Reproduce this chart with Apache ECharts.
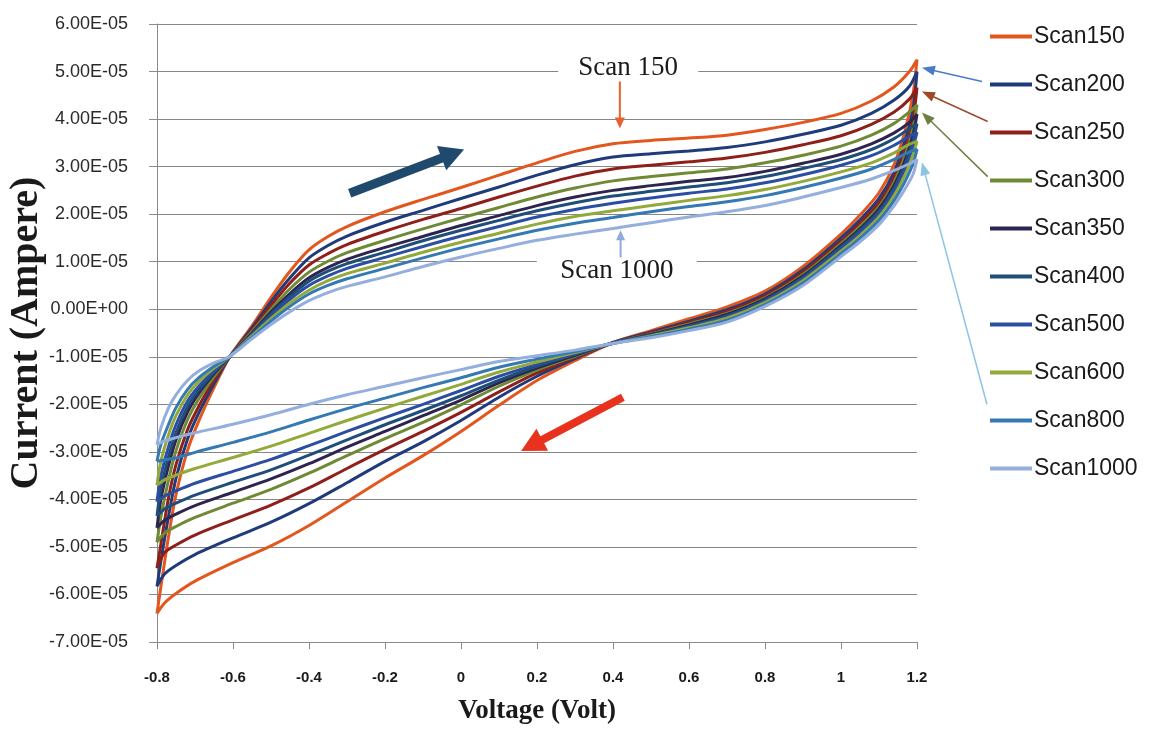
<!DOCTYPE html>
<html>
<head>
<meta charset="utf-8">
<script src="https://cdn.jsdelivr.net/npm/echarts@6/dist/echarts.min.js"></script>
<style>
  html, body { margin: 0; padding: 0; background: #ffffff; }
  #chart { width: 1151px; height: 731px; }
</style>
</head>
<body>
<div id="chart"></div>
<script>
// Cyclic voltammetry loops at ten scan rates.
// Voltages (V) for the anodic (forward) sweep, -0.8 -> 1.2
const fwdVolts = [-0.8, -0.79, -0.77, -0.75, -0.72, -0.69, -0.65, -0.61, -0.55, -0.5, -0.45, -0.4, -0.35, -0.3, -0.2, -0.1, 0, 0.1, 0.2, 0.3, 0.4, 0.5, 0.6, 0.7, 0.8, 0.9, 1.0, 1.08, 1.14, 1.18, 1.2];
// Voltages (V) for the cathodic (reverse) sweep, 1.2 -> -0.8
const revVolts = [1.19, 1.17, 1.14, 1.1, 1.05, 1.0, 0.9, 0.8, 0.7, 0.6, 0.5, 0.4, 0.3, 0.2, 0.1, 0, -0.1, -0.2, -0.3, -0.4, -0.5, -0.6, -0.7, -0.75, -0.78, -0.8];

// Currents in units of 1e-5 A
const fwd150  = [-6.40, -5.85, -4.80, -3.90, -2.98, -2.35, -1.65, -1.02, -0.35, 0.25, 0.80, 1.25, 1.53, 1.74, 2.05, 2.31, 2.56, 2.82, 3.08, 3.32, 3.48, 3.55, 3.60, 3.66, 3.78, 3.93, 4.12, 4.38, 4.68, 5.00, 5.25];
const rev150  = [4.55, 3.80, 3.05, 2.45, 1.98, 1.58, 0.90, 0.38, 0.05, -0.20, -0.45, -0.70, -1.08, -1.50, -2.02, -2.57, -3.08, -3.55, -4.05, -4.55, -4.98, -5.33, -5.72, -5.98, -6.18, -6.40];
const fwd200  = [-5.83, -5.31, -4.37, -3.56, -2.74, -2.18, -1.57, -1.02, -0.39, 0.16, 0.66, 1.08, 1.34, 1.54, 1.83, 2.08, 2.33, 2.57, 2.82, 3.04, 3.20, 3.27, 3.33, 3.40, 3.52, 3.68, 3.87, 4.12, 4.40, 4.69, 5.00];
const rev200  = [4.24, 3.58, 2.89, 2.33, 1.88, 1.50, 0.83, 0.32, -0.01, -0.25, -0.48, -0.70, -1.04, -1.41, -1.85, -2.34, -2.79, -3.20, -3.65, -4.09, -4.48, -4.81, -5.16, -5.39, -5.57, -5.83];
const fwd250  = [-5.45, -4.95, -3.98, -3.27, -2.54, -2.04, -1.49, -1.01, -0.43, 0.08, 0.55, 0.93, 1.17, 1.36, 1.64, 1.89, 2.12, 2.36, 2.59, 2.80, 2.95, 3.03, 3.10, 3.18, 3.30, 3.46, 3.65, 3.89, 4.15, 4.42, 4.66];
const rev250  = [4.02, 3.41, 2.78, 2.24, 1.81, 1.43, 0.78, 0.28, -0.05, -0.28, -0.50, -0.71, -1.01, -1.34, -1.74, -2.17, -2.57, -2.95, -3.35, -3.76, -4.12, -4.43, -4.75, -4.96, -5.12, -5.45];
const fwd300  = [-4.90, -4.38, -3.60, -2.98, -2.33, -1.89, -1.42, -1.01, -0.47, 0.00, 0.43, 0.78, 1.01, 1.19, 1.45, 1.69, 1.92, 2.14, 2.36, 2.55, 2.70, 2.79, 2.87, 2.95, 3.08, 3.24, 3.43, 3.66, 3.91, 4.15, 4.30];
const rev300  = [3.82, 3.26, 2.68, 2.16, 1.74, 1.38, 0.73, 0.24, -0.09, -0.31, -0.52, -0.71, -0.99, -1.28, -1.62, -2.01, -2.38, -2.72, -3.08, -3.45, -3.79, -4.08, -4.38, -4.57, -4.71, -4.90];
const fwd350  = [-4.60, -4.01, -3.30, -2.75, -2.17, -1.77, -1.36, -1.01, -0.50, -0.06, 0.33, 0.66, 0.88, 1.05, 1.30, 1.53, 1.76, 1.97, 2.18, 2.36, 2.50, 2.60, 2.69, 2.77, 2.90, 3.07, 3.26, 3.48, 3.71, 3.93, 4.10];
const rev350  = [3.68, 3.16, 2.61, 2.11, 1.69, 1.34, 0.70, 0.22, -0.11, -0.33, -0.53, -0.71, -0.97, -1.24, -1.55, -1.91, -2.24, -2.57, -2.90, -3.25, -3.57, -3.85, -4.13, -4.31, -4.44, -4.60];
const fwd400  = [-4.35, -3.77, -3.11, -2.60, -2.06, -1.70, -1.33, -1.00, -0.52, -0.10, 0.27, 0.59, 0.80, 0.96, 1.20, 1.44, 1.66, 1.87, 2.07, 2.24, 2.38, 2.48, 2.57, 2.66, 2.79, 2.96, 3.15, 3.36, 3.59, 3.80, 3.90];
const rev400  = [3.56, 3.08, 2.55, 2.06, 1.66, 1.31, 0.67, 0.19, -0.14, -0.35, -0.54, -0.71, -0.95, -1.20, -1.49, -1.82, -2.13, -2.43, -2.75, -3.07, -3.38, -3.64, -3.91, -4.08, -4.20, -4.35];
const fwd500  = [-4.05, -3.51, -2.90, -2.43, -1.94, -1.62, -1.29, -1.00, -0.54, -0.15, 0.21, 0.50, 0.70, 0.86, 1.09, 1.32, 1.54, 1.74, 1.94, 2.10, 2.23, 2.34, 2.44, 2.53, 2.66, 2.83, 3.03, 3.23, 3.45, 3.64, 3.72];
const rev500  = [3.43, 2.98, 2.48, 2.01, 1.61, 1.27, 0.64, 0.17, -0.16, -0.37, -0.55, -0.71, -0.94, -1.16, -1.41, -1.71, -2.00, -2.28, -2.57, -2.87, -3.16, -3.41, -3.66, -3.82, -3.93, -4.05];
const fwd600  = [-3.70, -3.20, -2.65, -2.24, -1.81, -1.52, -1.24, -1.00, -0.56, -0.20, 0.13, 0.40, 0.60, 0.75, 0.97, 1.20, 1.41, 1.60, 1.79, 1.95, 2.07, 2.18, 2.29, 2.39, 2.52, 2.69, 2.89, 3.08, 3.29, 3.47, 3.53];
const rev600  = [3.26, 2.85, 2.39, 1.94, 1.55, 1.22, 0.60, 0.14, -0.19, -0.39, -0.56, -0.72, -0.91, -1.11, -1.32, -1.58, -1.83, -2.08, -2.34, -2.61, -2.88, -3.12, -3.35, -3.49, -3.59, -3.70];
const fwd800  = [-3.20, -2.85, -2.43, -2.07, -1.69, -1.44, -1.20, -1.00, -0.59, -0.25, 0.06, 0.32, 0.50, 0.64, 0.86, 1.08, 1.29, 1.48, 1.66, 1.81, 1.93, 2.05, 2.16, 2.26, 2.39, 2.56, 2.76, 2.95, 3.15, 3.31, 3.36];
const rev800  = [3.07, 2.71, 2.29, 1.87, 1.49, 1.17, 0.55, 0.10, -0.23, -0.42, -0.58, -0.72, -0.89, -1.05, -1.22, -1.44, -1.65, -1.87, -2.09, -2.33, -2.58, -2.80, -3.01, -3.13, -3.17, -3.20];
const fwd1000 = [-2.85, -2.50, -2.08, -1.80, -1.50, -1.30, -1.13, -1.00, -0.62, -0.32, -0.05, 0.18, 0.35, 0.48, 0.68, 0.90, 1.10, 1.28, 1.45, 1.58, 1.70, 1.82, 1.94, 2.05, 2.18, 2.36, 2.56, 2.74, 2.92, 3.06, 3.15];
const rev1000 = [2.85, 2.55, 2.18, 1.78, 1.42, 1.11, 0.50, 0.06, -0.27, -0.45, -0.60, -0.72, -0.86, -0.98, -1.10, -1.27, -1.44, -1.62, -1.80, -2.00, -2.22, -2.42, -2.60, -2.70, -2.77, -2.85];

const scanNames  = ['Scan150', 'Scan200', 'Scan250', 'Scan300', 'Scan350', 'Scan400', 'Scan500', 'Scan600', 'Scan800', 'Scan1000'];
const scanColors = ['#E2571E', '#1F3B7A', '#8E1F1B', '#6F8A35', '#2E2450', '#1F4E79', '#2B4EA2', '#93A93A', '#3579B2', '#94AEDD'];
const sweeps = [
  [fwd150, rev150], [fwd200, rev200], [fwd250, rev250], [fwd300, rev300], [fwd350, rev350],
  [fwd400, rev400], [fwd500, rev500], [fwd600, rev600], [fwd800, rev800], [fwd1000, rev1000]
];
const UNIT = 1e-5;

// Axis range (voltage in V, current in A)
const xMin = -0.8, xMax = 1.2, xStep = 0.2;
const yMin = -7e-5, yMax = 6e-5, yStep = 1e-5;

// Annotations, in data coordinates (V, 1e-5 A)
const noteTexts = [
  { text: 'Scan 150',  at: [0.44, 5.08], w: 140 },
  { text: 'Scan 1000', at: [0.41, 0.80], w: 160 }
];
const noteArrows = [
  { from: [0.418, 4.79], to: [0.418, 3.80], color: '#E8602C', w: 2,   hl: 11, hw: 10 },
  { from: [0.42, 1.09],  to: [0.42, 1.66],  color: '#8FAADC', w: 2,   hl: 10, hw: 9 },
  { from: [-0.293, 2.44], to: [0.008, 3.36], color: '#1F4A6E', w: 9,  hl: 24, hw: 26 },
  { from: [0.426, -1.85], to: [0.158, -2.98], color: '#E8321E', w: 8, hl: 24, hw: 25 },
  { from: [1.371, 4.79], to: [1.213, 5.08], color: '#4A7BC8', w: 1.5, hl: 13, hw: 10 },
  { from: [1.386, 3.95], to: [1.213, 4.58], color: '#9C4A2A', w: 1.5, hl: 13, hw: 10 },
  { from: [1.386, 2.79], to: [1.213, 4.14], color: '#6E8040', w: 1.5, hl: 13, hw: 10 },
  { from: [1.384, -2.0], to: [1.213, 3.09], color: '#8CC4E4', w: 1.5, hl: 13, hw: 10 }
];

function sciLabel(v) {
  if (Math.abs(v) < 1e-12) return '0.00E+00';
  const parts = v.toExponential(2).split('e');
  const e = parseInt(parts[1], 10);
  return parts[0] + 'E' + (e < 0 ? '-' : '+') + String(Math.abs(e)).padStart(2, '0');
}

const series = sweeps.map(function (s, k) {
  const data = [];
  fwdVolts.forEach(function (v, i) { data.push([v, s[0][i] * UNIT]); });
  revVolts.forEach(function (v, i) { data.push([v, s[1][i] * UNIT]); });
  return {
    name: scanNames[k],
    type: 'line',
    data: data,
    smooth: 0.3,
    symbol: 'none',
    showSymbol: false,
    clip: true,
    lineStyle: { width: 3, color: scanColors[k] },
    itemStyle: { color: scanColors[k] },
    emphasis: { disabled: true }
  };
});

const chart = echarts.init(document.getElementById('chart'), null, { renderer: 'canvas' });
chart.setOption({
  animation: false,
  backgroundColor: '#ffffff',
  grid: { left: 157, right: 234, top: 24, bottom: 89, containLabel: false, outerBoundsMode: 'none' },
  legend: {
    orient: 'vertical',
    left: 990,
    top: 25,
    icon: 'rect',
    itemWidth: 42,
    itemHeight: 4,
    itemGap: 25,
    padding: 0,
    selectedMode: false,
    data: scanNames,
    textStyle: { fontFamily: 'Liberation Sans, Arial, sans-serif', fontSize: 23, lineHeight: 22, color: '#1a1a1a', padding: [0, 0, 0, -3] }
  },
  xAxis: {
    type: 'value',
    min: xMin, max: xMax, interval: xStep,
    name: 'Voltage (Volt)',
    nameLocation: 'middle',
    nameGap: 56,
    nameMoveOverlap: false,
    nameTextStyle: { fontFamily: 'Liberation Serif, Times New Roman, serif', fontWeight: 'bold', fontSize: 27, color: '#1a1a1a' },
    axisLine: { show: true, onZero: false, lineStyle: { color: '#8a8a8a', width: 1 } },
    axisTick: { show: true, inside: false, length: 7, lineStyle: { color: '#8a8a8a' } },
    splitLine: { show: false },
    axisLabel: {
      margin: 28,
      fontFamily: 'Liberation Sans Narrow, Liberation Sans, Arial, sans-serif',
      fontWeight: 'bold', fontSize: 15, color: '#1a1a1a',
      formatter: function (v) { return String(+v.toFixed(1)); }
    }
  },
  yAxis: {
    type: 'value',
    min: yMin, max: yMax, interval: yStep,
    name: 'Current (Ampere)',
    nameLocation: 'middle',
    nameGap: 110,
    nameMoveOverlap: false,
    nameTextStyle: { fontFamily: 'Liberation Serif, Times New Roman, serif', fontWeight: 'bold', fontSize: 40, color: '#1a1a1a' },
    axisLine: { show: true, onZero: false, lineStyle: { color: '#8a8a8a', width: 1 } },
    axisTick: { show: true, inside: false, length: 8, lineStyle: { color: '#8a8a8a' } },
    splitLine: { show: true, lineStyle: { color: '#868686', width: 1 } },
    axisLabel: {
      margin: 29,
      fontFamily: 'Liberation Sans, Arial, sans-serif',
      fontSize: 18, color: '#2a2a2a',
      formatter: sciLabel
    }
  },
  series: series
});

// Callout boxes and arrows placed through the axis scales
function toPx(p) { return chart.convertToPixel({ gridIndex: 0 }, [p[0], p[1] * UNIT]); }

function arrowShapes(a) {
  const p0 = toPx(a.from), p1 = toPx(a.to);
  const dx = p1[0] - p0[0], dy = p1[1] - p0[1];
  const L = Math.hypot(dx, dy);
  const ux = dx / L, uy = dy / L, nx = -uy, ny = ux;
  const bx = p1[0] - ux * a.hl, by = p1[1] - uy * a.hl;
  return [
    { type: 'line', z: 100, silent: true,
      shape: { x1: p0[0], y1: p0[1], x2: bx + ux, y2: by + uy },
      style: { stroke: a.color, lineWidth: a.w, lineCap: 'butt' } },
    { type: 'polygon', z: 100, silent: true,
      shape: { points: [[p1[0], p1[1]], [bx + nx * a.hw / 2, by + ny * a.hw / 2], [bx - nx * a.hw / 2, by - ny * a.hw / 2]] },
      style: { fill: a.color } }
  ];
}

const elements = [];
noteTexts.forEach(function (n) {
  const c = toPx(n.at);
  elements.push({ type: 'rect', z: 90, silent: true,
    shape: { x: c[0] - n.w / 2, y: c[1] - 14, width: n.w, height: 28 },
    style: { fill: '#ffffff' } });
  elements.push({ type: 'text', z: 101, silent: true, x: c[0], y: c[1],
    style: { text: n.text, fill: '#1a1a1a', align: 'center', verticalAlign: 'middle',
             font: '27px "Liberation Serif", "Times New Roman", serif' } });
});
noteArrows.forEach(function (a) { arrowShapes(a).forEach(function (e) { elements.push(e); }); });

chart.setOption({ graphic: { elements: elements } });
</script>
</body>
</html>
